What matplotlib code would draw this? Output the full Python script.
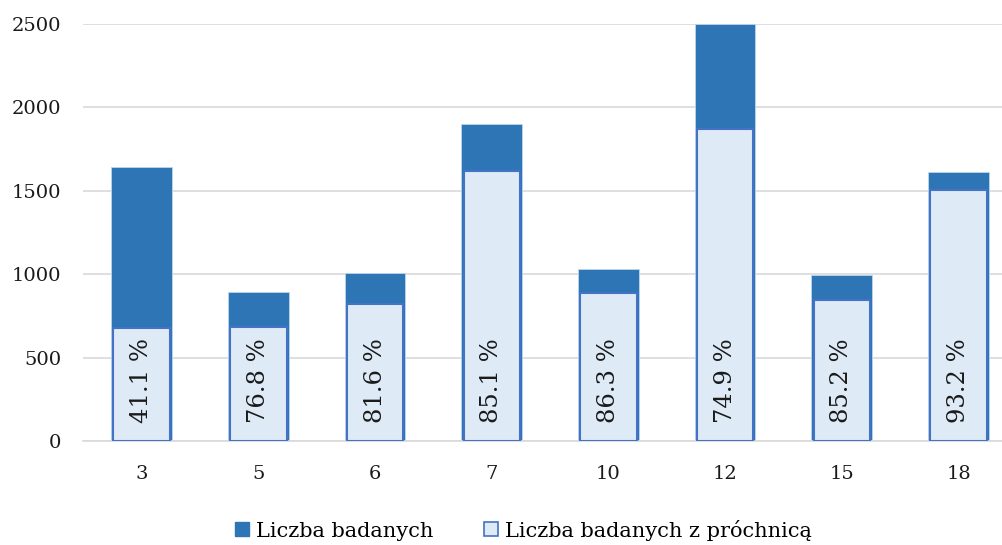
import matplotlib
matplotlib.use("Agg")
import matplotlib.pyplot as plt
from matplotlib.patches import Patch

categories = ["3", "5", "6", "7", "10", "12", "15", "18"]
total = [1643, 893, 1005, 1902, 1030, 2500, 995, 1613]
caries = [676, 686, 820, 1619, 889, 1873, 848, 1503]
pct_labels = ["41.1 %", "76.8 %", "81.6 %", "85.1 %", "86.3 %", "74.9 %", "85.2 %", "93.2 %"]

plt.rcParams['font.family'] = ['DejaVu Serif']

fig = plt.figure(figsize=(10.03, 5.45), dpi=100)
ax = fig.add_axes([0.0832, 0.1908, 0.9306, 0.7652])

x = list(range(len(categories)))
dark = "#2E75B6"
light = "#DEEBF7"
edge = "#4472C4"

ax.bar(x, total, width=0.52, color=dark, edgecolor="#BDD7EE", linewidth=0.6, zorder=2)
ax.bar(x, caries, width=0.485, color=light, edgecolor=edge, linewidth=1.5, zorder=3)

for xi, lab in zip(x, pct_labels):
    ax.text(xi, 108, lab, rotation=90, ha="center", va="bottom", fontsize=17.5,
            color="#1a1a1a", zorder=4)

ax.set_xlim(-0.5, len(categories) - 0.5)
ax.set_ylim(0, 2500)
ax.set_yticks([0, 500, 1000, 1500, 2000, 2500])
ax.set_xticks(x)
ax.set_xticklabels(categories)
ax.tick_params(axis="both", length=0, labelsize=14, colors="#1a1a1a")
ax.tick_params(axis="x", pad=17)
ax.tick_params(axis="y", pad=16)
ax.grid(axis="y", color="#D9D9D9", linewidth=1.2, zorder=0)
ax.set_axisbelow(True)
for s in ["top", "right", "left"]:
    ax.spines[s].set_visible(False)
ax.spines["bottom"].set_color("#D9D9D9")
ax.spines["bottom"].set_linewidth(1.2)

handles = [Patch(facecolor=dark, edgecolor=dark, label="Liczba badanych"),
           Patch(facecolor=light, edgecolor=edge, linewidth=1.2, label="Liczba badanych z próchnicą")]
fig.legend(handles=handles, loc="center", bbox_to_anchor=(0.522, 0.0275), ncol=2,
           frameon=False, fontsize=15, handlelength=0.68, handleheight=0.68,
           handletextpad=0.35, columnspacing=2.4)

fig.savefig("out.png", dpi=100)
